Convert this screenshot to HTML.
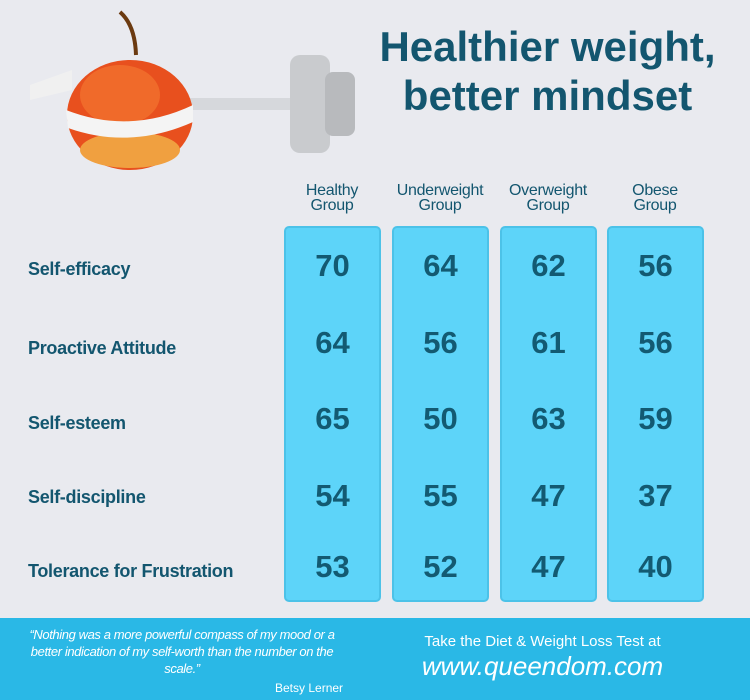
<!DOCTYPE html>
<html><head><style>
body{margin:0;width:750px;height:700px;background:#e9eaef;position:relative;overflow:hidden;font-family:"Liberation Sans",sans-serif;color:#13566f}
.a{position:absolute}
.box{position:absolute;top:226px;width:93px;height:372px;background:#5dd4f9;border:2px solid #4cc2e8;border-radius:5px}
.hd{position:absolute;top:183px;width:110px;text-align:center;font-size:16px;line-height:15px;color:#13566f;letter-spacing:-0.3px}
.n{position:absolute;width:97px;text-align:center;font-size:31px;font-weight:bold;color:#135a72}
.l{position:absolute;left:28px;font-size:18px;font-weight:bold;letter-spacing:-0.3px}
</style></head><body>
<svg class="a" style="left:0;top:0" width="380" height="175">
<rect x="185" y="98" width="110" height="12" fill="#d6d8dc"/>
<rect x="290" y="55" width="40" height="98" rx="10" fill="#c9cbce"/>
<rect x="325" y="72" width="30" height="64" rx="8" fill="#b8babd"/>
<ellipse cx="130" cy="115" rx="63" ry="55" fill="#e8501e"/>
<ellipse cx="120" cy="95" rx="40" ry="30" fill="#f06a2a"/>
<ellipse cx="130" cy="150" rx="50" ry="18" fill="#f0a040"/>
<path d="M120 12 Q135 25 136 55" stroke="#6b3a10" stroke-width="4" fill="none"/>
<path d="M66 110 Q130 135 193 105 L193 122 Q130 150 68 128Z" fill="#f4f4f4"/>
<path d="M30 85 L72 70 L72 90 L30 100Z" fill="#f0f0f0"/>
</svg>
<div class="a" style="left:365px;top:22px;width:365px;text-align:center;font-size:42px;font-weight:bold;line-height:49px;color:#13566f">Healthier weight,<br>better mindset</div>
<div class="hd" style="left:277px">Healthy<br>Group</div>
<div class="hd" style="left:385px">Underweight<br>Group</div>
<div class="hd" style="left:493px">Overweight<br>Group</div>
<div class="hd" style="left:600px">Obese<br>Group</div>
<div class="box" style="left:284px"></div>
<div class="box" style="left:392px"></div>
<div class="box" style="left:500px"></div>
<div class="box" style="left:607px"></div>
<div class="l" style="top:259px">Self-efficacy</div>
<div class="l" style="top:338px">Proactive Attitude</div>
<div class="l" style="top:413px">Self-esteem</div>
<div class="l" style="top:487px">Self-discipline</div>
<div class="l" style="top:561px">Tolerance for Frustration</div>
<div class="n" style="left:284px;top:248px">70</div><div class="n" style="left:392px;top:248px">64</div><div class="n" style="left:500px;top:248px">62</div><div class="n" style="left:607px;top:248px">56</div>
<div class="n" style="left:284px;top:325px">64</div><div class="n" style="left:392px;top:325px">56</div><div class="n" style="left:500px;top:325px">61</div><div class="n" style="left:607px;top:325px">56</div>
<div class="n" style="left:284px;top:401px">65</div><div class="n" style="left:392px;top:401px">50</div><div class="n" style="left:500px;top:401px">63</div><div class="n" style="left:607px;top:401px">59</div>
<div class="n" style="left:284px;top:478px">54</div><div class="n" style="left:392px;top:478px">55</div><div class="n" style="left:500px;top:478px">47</div><div class="n" style="left:607px;top:478px">37</div>
<div class="n" style="left:284px;top:549px">53</div><div class="n" style="left:392px;top:549px">52</div><div class="n" style="left:500px;top:549px">47</div><div class="n" style="left:607px;top:549px">40</div>
<div class="a" style="left:0;top:618px;width:750px;height:82px;background:#2ab8e6;color:#fff">
<div class="a" style="left:14px;top:8px;width:336px;text-align:center;font-size:13px;font-style:italic;line-height:17px;letter-spacing:-0.4px">“Nothing was a more powerful compass of my mood or a better indication of my self-worth than the number on the scale.”</div>
<div class="a" style="left:275px;top:63px;font-size:12px">Betsy Lerner</div>
<div class="a" style="left:400px;top:15px;width:285px;text-align:center;font-size:15px">Take the Diet &amp; Weight Loss Test at</div>
<div class="a" style="left:400px;top:33px;width:285px;text-align:center;font-size:26px;font-style:italic">www.queendom.com</div>
</div>
</body></html>
